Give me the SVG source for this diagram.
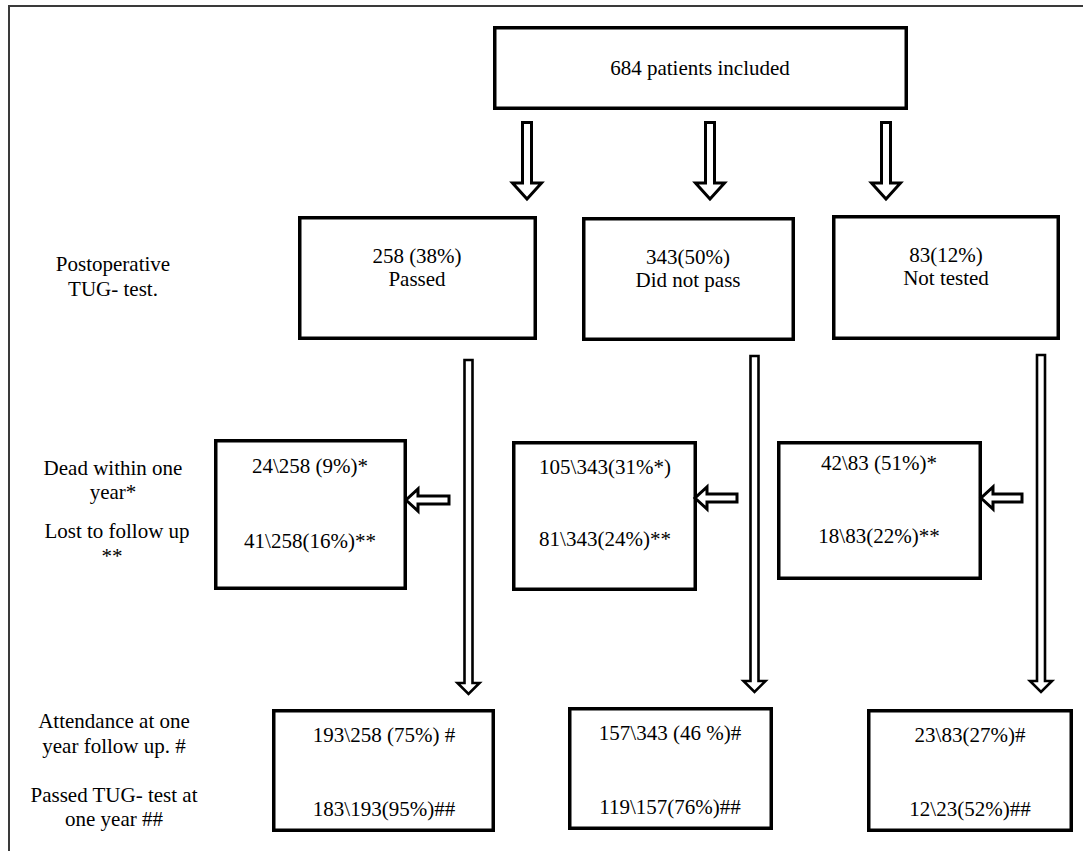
<svg xmlns="http://www.w3.org/2000/svg" width="1083" height="851" viewBox="0 0 1083 851">
<style>
.bg{fill:#ffffff}
.frame{stroke:#3a3a3a;stroke-width:2;fill:none}
.box{fill:#ffffff;stroke:#000;stroke-width:3.5}
.arr{fill:#ffffff;stroke:#000;stroke-width:3;stroke-linejoin:miter}
.arr2{fill:#ffffff;stroke:#000;stroke-width:2.6;stroke-linejoin:miter}
text{font-family:"Liberation Serif","Times New Roman",serif;font-size:21px;fill:#000;text-anchor:middle}
</style>
<rect class="bg" x="0" y="0" width="1083" height="851"/>
<g id="frame">
<line class="frame" x1="9" y1="6" x2="1083" y2="6"/>
<line class="frame" x1="9" y1="5" x2="9" y2="851"/>
</g>
<g id="labels">
<text x="113" y="271">Postoperative</text>
<text x="113" y="296">TUG- test.</text>
<text x="113" y="475">Dead within one</text>
<text x="113" y="499">year*</text>
<text x="117" y="538">Lost to follow up</text>
<text x="112" y="563">**</text>
<text x="114" y="728">Attendance at one</text>
<text x="114" y="753">year follow up. #</text>
<text x="114" y="802">Passed TUG- test at</text>
<text x="114" y="826">one year ##</text>
</g>
<g id="n-included">
<rect class="box" x="494.75" y="27.75" width="411.5" height="80.5"/>
<text x="700" y="75">684 patients included</text>
</g>
<g id="n-passed">
<rect class="box" x="299.75" y="217.75" width="235.5" height="120.5"/>
<text x="417" y="263">258 (38%)</text>
<text x="417" y="286">Passed</text>
</g>
<g id="n-notpass">
<rect class="box" x="583.75" y="218.75" width="209.5" height="120.5"/>
<text x="688" y="264">343(50%)</text>
<text x="688" y="287">Did not pass</text>
</g>
<g id="n-nottested">
<rect class="box" x="833.75" y="216.75" width="224.5" height="121.5"/>
<text x="946" y="262">83(12%)</text>
<text x="946" y="285">Not tested</text>
</g>
<g id="n-lost1">
<rect class="box" x="215.75" y="440.75" width="189.5" height="147.5"/>
<text x="310" y="473">24\258 (9%)*</text>
<text x="310" y="548">41\258(16%)**</text>
</g>
<g id="n-lost2">
<rect class="box" x="513.75" y="442.75" width="181.5" height="146.5"/>
<text x="605" y="474">105\343(31%*)</text>
<text x="605" y="546">81\343(24%)**</text>
</g>
<g id="n-lost3">
<rect class="box" x="778.75" y="442.75" width="201.5" height="135.5"/>
<text x="879" y="470">42\83 (51%)*</text>
<text x="879" y="543">18\83(22%)**</text>
</g>
<g id="n-year1">
<rect class="box" x="273.75" y="710.75" width="219.5" height="119.5"/>
<text x="384" y="742">193\258 (75%) #</text>
<text x="384" y="816">183\193(95%)##</text>
</g>
<g id="n-year2">
<rect class="box" x="569.75" y="708.75" width="201.5" height="119.5"/>
<text x="670" y="740">157\343 (46 %)#</text>
<text x="670" y="814">119\157(76%)##</text>
</g>
<g id="n-year3">
<rect class="box" x="868.75" y="710.75" width="202.5" height="119.5"/>
<text x="970" y="742">23\83(27%)#</text>
<text x="970" y="816">12\23(52%)##</text>
</g>
<g id="connectors">
<path class="arr" d="M522.5,122.5 L531.5,122.5 L531.5,183 L541.5,183 L527,199 L512.5,183 L522.5,183 Z"/>
<path class="arr" d="M705.5,122.5 L714.5,122.5 L714.5,183 L724.5,183 L710,199 L695.5,183 L705.5,183 Z"/>
<path class="arr" d="M881.5,122.5 L890.5,122.5 L890.5,183 L900.5,183 L886,199 L871.5,183 L881.5,183 Z"/>
<path class="arr2" d="M464.5,360 L472.5,360 L472.5,683 L479.5,683 L468.5,694 L457.5,683 L464.5,683 Z"/>
<path class="arr2" d="M750.5,356 L758.5,356 L758.5,681 L765.5,681 L754.5,692 L743.5,681 L750.5,681 Z"/>
<path class="arr2" d="M1037,355 L1045,355 L1045,681 L1052,681 L1041,692 L1030,681 L1037,681 Z"/>
<path class="arr" d="M449,496 L418,496 L418,489 L406,500 L418,511 L418,504 L449,504 Z"/>
<path class="arr" d="M737,494 L707,494 L707,487 L695,498 L707,509 L707,502 L737,502 Z"/>
<path class="arr" d="M1022,494 L993,494 L993,487 L981,498 L993,509 L993,502 L1022,502 Z"/>
</g>
</svg>
